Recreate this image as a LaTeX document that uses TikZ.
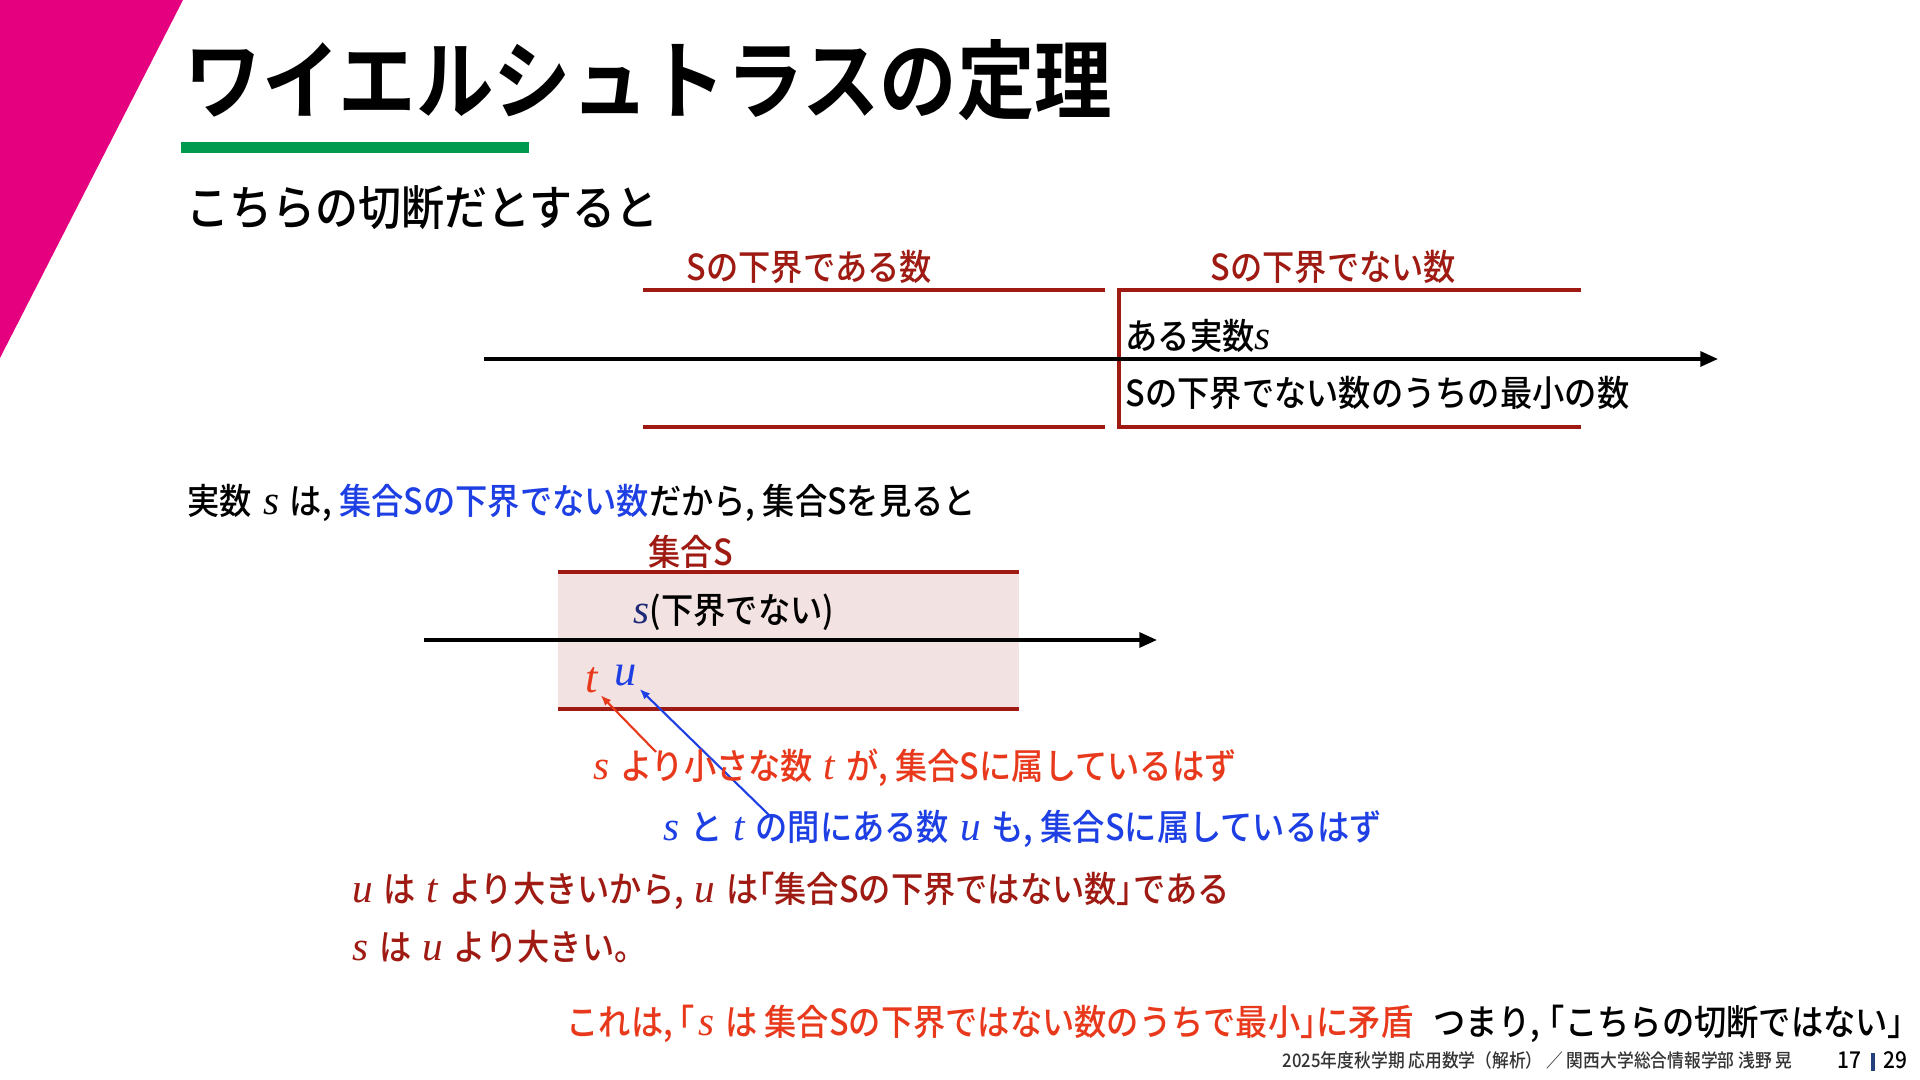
\documentclass[tikz,border=0pt]{standalone}
\usepackage{fontspec}
\setmainfont{Noto Sans CJK JP}[FakeStretch=0.9, UprightFont=* Medium, BoldFont=* Bold]
\newfontfamily\varfont{Liberation Serif}[Scale=1.15]
\usetikzlibrary{arrows.meta}

\definecolor{slideMag}{HTML}{E4007F}
\definecolor{slideGreen}{HTML}{009A4E}
\definecolor{bndRed}{HTML}{9E1A12}
\definecolor{setPink}{HTML}{F2E2E1}
\definecolor{hlRed}{HTML}{E8391C}
\definecolor{hlBlue}{HTML}{1D3FE3}
\definecolor{sNavy}{HTML}{1E2A78}
\definecolor{pageBar}{HTML}{23407A}

\newcommand{\ivar}[1]{{\varfont\itshape #1}}
\newcommand{\iv}[1]{\kern0.1em\relax\ivar{#1}\kern0.1em\relax}
\newcommand{\fsize}[1]{\fontsize{#1}{#1}\selectfont}
\newcommand{\lbrk}[1][0.45em]{\kern-#1\relax「}
\newcommand{\rbrk}{」\kern-0.45em\relax}

\begin{document}
\begin{tikzpicture}[
    txt/.style={anchor=west, inner sep=0pt, font=\fsize{10.2}},
    bnd/.style={draw=bndRed, line width=1.1pt},
    axis/.style={-{Triangle[length=5pt, width=4.2pt]}, line width=1pt},
    ptr/.style={-{Latex[length=3pt, width=2.4pt]}, line width=0.6pt},
]

\useasboundingbox (0,0) rectangle (19.2,10.8);
\fill[white] (0,0) rectangle (19.2,10.8);

% Header
\fill[slideMag] (0,10.8) -- (1.83,10.8) -- (0,7.22) -- cycle;
\node[txt, font=\fsize{24.5}\bfseries] (title) at (1.84,10.0) {ワイエルシュトラスの定理};
\fill[slideGreen] (1.81,9.27) rectangle (5.29,9.38);
\node[txt, font=\fsize{13.6}] (sub) at (1.86,8.72) {こちらの切断だとすると};

% Cut of the real line
\node[txt, text=bndRed] (lowLbl) at (6.86,8.13) {Sの下界である数};
\node[txt, text=bndRed] (notLbl) at (12.10,8.13) {Sの下界でない数};
\draw[bnd] (6.43,7.90) -- (11.05,7.90);
\draw[bnd] (6.43,6.53) -- (11.05,6.53);
\draw[bnd] (15.81,7.90) -- (11.19,7.90) -- (11.19,6.53) -- (15.81,6.53);
\coordinate (axL) at (4.84,7.21);
\coordinate (axR) at (17.18,7.21);
\draw[axis] (axL) -- (axR);
\node[txt] (someS) at (11.25,7.44) {ある実数\ivar{s}};
\node[txt] (minS) at (11.25,6.87) {Sの下界でない数のうちの最小の数};

% Set S around s
\node[txt] (since) at (1.87,5.77)
    {実数 \iv{s} は, \textcolor{hlBlue}{集合Sの下界でない数}だから, 集合Sを見ると};
\node[txt, text=bndRed] (setLbl) at (6.48,5.28) {集合S};
\fill[setPink] (5.58,3.71) rectangle (10.19,5.08);
\draw[bnd] (5.58,5.08) -- (10.19,5.08);
\draw[bnd] (5.58,3.71) -- (10.19,3.71);
\coordinate (ax2L) at (4.24,4.40);
\coordinate (ax2R) at (11.57,4.40);
\draw[axis] (ax2L) -- (ax2R);
\node[txt] (sNot) at (6.33,4.68) {\textcolor{sNavy}{\ivar{s}}(下界でない)};
\node[font=\fsize{11}, text=hlRed, inner sep=0.5pt] (tvar) at (5.92,4.00) {\ivar{t}};
\node[font=\fsize{11}, text=hlBlue, inner sep=0.5pt] (uvar) at (6.26,4.04) {\ivar{u}};

% Pointers from the statements
\coordinate (tfoot) at (6.56,3.28);
\coordinate (ufoot) at (7.70,2.64);
\draw[ptr, hlRed] (tfoot) -- (tvar.south east);
\draw[ptr, hlBlue] (ufoot) -- (uvar.south east);

% Argument
\node[txt, text=hlRed] (smaller) at (5.89,3.12)
    {\iv{s} より小さな数 \iv{t} が, 集合Sに属しているはず};
\node[txt, text=hlBlue] (between) at (6.59,2.51)
    {\iv{s} と \iv{t} の間にある数 \iv{u} も, 集合Sに属しているはず};
\node[txt, text=bndRed] (bigger) at (3.48,1.89)
    {\iv{u} は \iv{t} より大きいから, \iv{u} は\lbrk 集合Sの下界ではない数\rbrk である};
\node[txt, text=bndRed] (sgtu) at (3.48,1.33) {\iv{s} は \iv{u} より大きい。};
\node[txt, text=hlRed] (contra) at (5.66,0.56)
    {これは,\lbrk[0.3em]\iv{s} は 集合Sの下界ではない数のうちで最小\rbrk に矛盾};
\node[txt] (concl) at (14.33,0.56) {つまり,\lbrk[0.2em]こちらの切断ではない」};

% Footer
\node[txt, font=\fsize{5.3}, text=black!80] (foot) at (12.82,0.20)
    {2025年度秋学期 応用数学（解析） ／ 関西大学総合情報学部 浅野 晃};
\node[txt, font=\fsize{6.6}] (pgNow) at (18.37,0.20) {17};
\fill[pageBar] (18.71,0.09) rectangle (18.75,0.27);
\node[txt, font=\fsize{6.6}] (pgAll) at (18.83,0.20) {29};

\end{tikzpicture}
\end{document}
